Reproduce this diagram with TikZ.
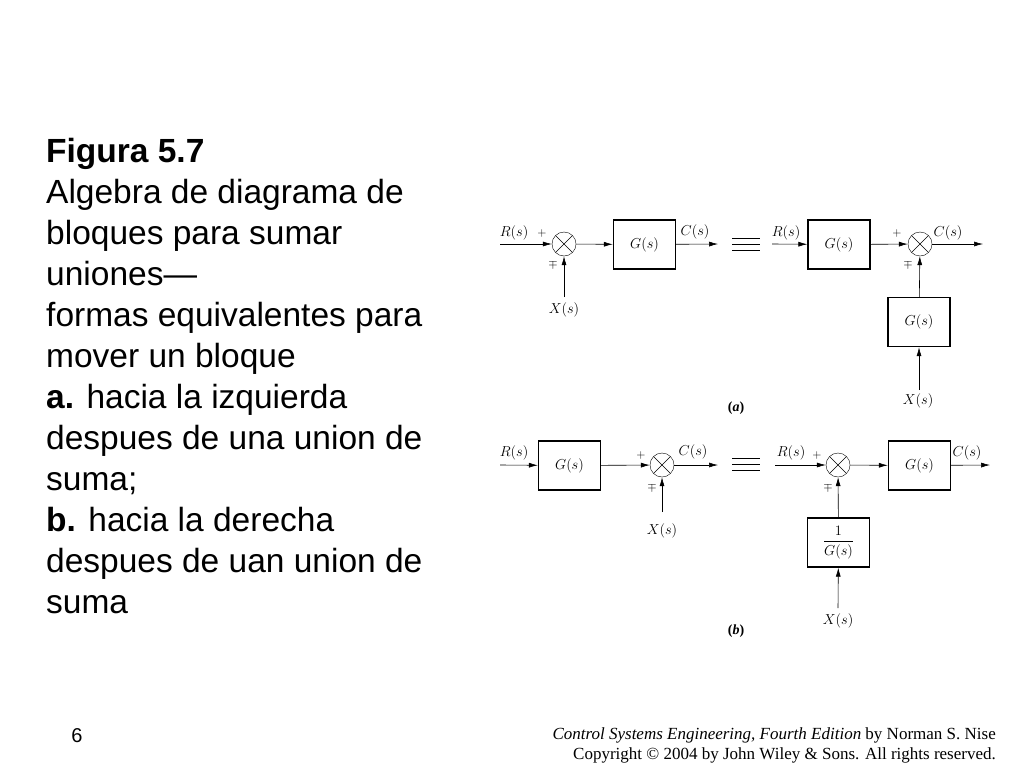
\documentclass[tikz,border=0pt]{standalone}
\usepackage{amsmath}
\usepackage{fontspec}
\setmainfont{Liberation Serif}
\newfontfamily\arialf{Liberation Sans}
\usetikzlibrary{positioning,arrows.meta}
\begin{document}
\begin{tikzpicture}[x=1pt,y=-1pt,
   blk/.style={draw,line width=1.4pt,minimum width=62pt,minimum height=49pt,inner sep=0pt,font=\fontsize{14}{15}\selectfont},
   sumjn/.style={draw,circle,minimum size=24pt,inner sep=0pt,
      path picture={\draw (path picture bounding box.north west)--(path picture bounding box.south east)
      (path picture bounding box.north east)--(path picture bounding box.south west);}},
   sig/.style={-{Latex[length=9pt,width=5pt]},line width=0.6pt},
   lbl/.style={font=\fontsize{14}{15}\selectfont,inner sep=1pt},
   sgn/.style={font=\fontsize{12}{12}\selectfont,inner sep=0pt}]
\useasboundingbox (0,0) rectangle (1024,768);
% caption
\node[anchor=north west,align=left,font=\arialf\fontsize{33.5}{41}\selectfont,inner sep=0pt] (cap) at (46,138)
 {\textbf{Figura 5.7}\\Algebra de diagrama de\\bloques para sumar\\uniones\textemdash\\formas equivalentes para\\mover un bloque\\
  \textbf{a.} hacia la izquierda\\despues de una union de\\suma;\\\textbf{b.} hacia la derecha\\despues de uan union de\\suma};
% footer
\node[font=\arialf\fontsize{20}{22}\selectfont] (pg) at (77,736) {6};
\node[anchor=east,font=\fontsize{17}{20}\selectfont,inner sep=0pt] (ft1) at (996,735) {\textit{Control Systems Engineering, Fourth Edition} by Norman S. Nise};
\node[anchor=east,font=\fontsize{17}{20}\selectfont,inner sep=0pt] (ft2) at (996,755) {Copyright \textcopyright{} 2004 by John Wiley \& Sons. All rights reserved.};
% (a) left
\coordinate (ar) at (500,244);
\node[sumjn] (as) at (564,244) {};
\node[blk] (ag) at (644.5,244.5) {$G(s)$};
\coordinate (ac) at (718,244);
\coordinate (ax) at (564,297);
\draw[sig] (ar) -- (as);
\draw[sig] (as) -- (ag);
\draw[sig] (ag) -- (ac);
\draw[sig] (ax) -- (as);
\node[lbl] at (514,233) {$R(s)$};
\node[lbl] at (695,232) {$C(s)$};
\node[lbl] at (564,310) {$X(s)$};
\node[sgn] at (542,233) {$+$};
\node[sgn] at (553,264) {$\mp$};
% equivalence
\foreach \yy in {238,244,250} \draw (732,\yy) -- (760,\yy);
% (a) right
\coordinate (br) at (772,244);
\node[blk] (bg) at (839,244.5) {$G(s)$};
\node[sumjn] (bs) at (920,244) {};
\coordinate (bc) at (983,244);
\node[blk] (bf) at (919,322) {$G(s)$};
\coordinate (bx) at (919,390);
\draw[sig] (br) -- (bg);
\draw[sig] (bg) -- (bs);
\draw[sig] (bs) -- (bc);
\draw[sig] (bf) -- (bs);
\draw[sig] (bx) -- (bf);
\node[lbl] at (786,233) {$R(s)$};
\node[lbl] at (948,233) {$C(s)$};
\node[lbl] at (918,401) {$X(s)$};
\node[sgn] at (897,233) {$+$};
\node[sgn] at (908,264) {$\mp$};
\node[lbl] at (736,408) {\textbf{(\textit{a})}};
% (b) left
\coordinate (cr) at (500,465);
\node[blk] (cg) at (569.5,465.5) {$G(s)$};
\node[sumjn] (cs) at (662,465) {};
\coordinate (cc) at (718,465);
\coordinate (cx) at (662,512);
\draw[sig] (cr) -- (cg);
\draw[sig] (cg) -- (cs);
\draw[sig] (cs) -- (cc);
\draw[sig] (cx) -- (cs);
\node[lbl] at (514,453) {$R(s)$};
\node[lbl] at (693,452) {$C(s)$};
\node[lbl] at (662,531) {$X(s)$};
\node[sgn] at (641,455) {$+$};
\node[sgn] at (652,487) {$\mp$};
\foreach \yy in {458,464,470} \draw (732,\yy) -- (760,\yy);
% (b) right
\coordinate (dr) at (775,465);
\node[sumjn] (ds) at (838,465) {};
\node[blk] (dg) at (919.5,465.5) {$G(s)$};
\coordinate (dc) at (990,465);
\node[blk] (df) at (838.5,542.5) {$\dfrac{1}{G(s)}$};
\coordinate (dx) at (838,608);
\draw[sig] (dr) -- (ds);
\draw[sig] (ds) -- (dg);
\draw[sig] (dg) -- (dc);
\draw[sig] (df) -- (ds);
\draw[sig] (dx) -- (df);
\node[lbl] at (791,453) {$R(s)$};
\node[lbl] at (967,453) {$C(s)$};
\node[lbl] at (838,621) {$X(s)$};
\node[sgn] at (817,455) {$+$};
\node[sgn] at (828,487) {$\mp$};
\node[lbl] at (736,631) {\textbf{(\textit{b})}};
\end{tikzpicture}
\end{document}
